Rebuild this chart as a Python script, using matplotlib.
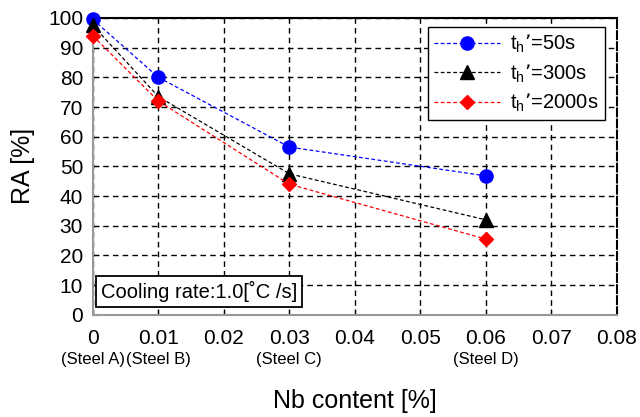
import matplotlib.pyplot as plt

plt.rcParams['font.family'] = ['Liberation Sans', 'DejaVu Sans']

nb = [0, 0.01, 0.03, 0.06]
steel_names = ['(Steel A)', '(Steel B)', '(Steel C)', '(Steel D)']
ra_50 = [99.5, 80, 56.5, 46.8]
ra_300 = [97.5, 73.5, 47.5, 32]
ra_2000 = [94, 72, 44, 25.5]

fig = plt.figure(figsize=(6.4, 4.17), dpi=100)
ax = fig.add_axes([0.145, 0.245, 0.819, 0.712])

ax.plot(nb, ra_50, color='blue', ls='--', lw=0.9, marker='o', ms=9.5,
        label="t$_\\mathregular{h}$\u2019=50s", dashes=(3, 2), clip_on=False, zorder=5)
ax.plot(nb, ra_300, color='black', ls='--', lw=0.9, marker='^', ms=9.5,
        label="t$_\\mathregular{h}$\u2019=300s", dashes=(3, 2), clip_on=False, zorder=5)
ax.plot(nb, ra_2000, color='red', ls='--', lw=0.9, marker='D', ms=7.5,
        label="t$_\\mathregular{h}$\u2019=2000s", dashes=(3, 2), clip_on=False, zorder=5)

ax.set_xlim(0, 0.08)
ax.set_ylim(0, 100)
ax.set_xticks([0, 0.01, 0.02, 0.03, 0.04, 0.05, 0.06, 0.07, 0.08])
ax.set_xticklabels(['0', '0.01', '0.02', '0.03', '0.04', '0.05', '0.06', '0.07', '0.08'])
ax.set_yticks(range(0, 101, 10))
ax.tick_params(direction='in', labelsize=15, length=4)
ax.tick_params(axis='x', pad=10)
ax.tick_params(axis='y', pad=7)

ax.grid(True, color='black', ls='--', lw=1.0, dashes=(4, 3))
ax.set_axisbelow(True)

for s in ['left', 'bottom']:
    ax.spines[s].set_color('#999999')
    ax.spines[s].set_linewidth(1.5)
ax.spines['top'].set_linewidth(1.5)
ax.spines['right'].set_linestyle('--')
ax.spines['right'].set_linewidth(1.5)

for x, name in zip(nb, steel_names):
    ax.text(x, -0.125, name, transform=ax.get_xaxis_transform(),
            ha='center', va='top', fontsize=12)

ax.set_xlabel('Nb content [%]', fontsize=18)
ax.xaxis.set_label_coords(0.5, -0.25)
ax.set_ylabel('RA [%]', fontsize=18)
ax.yaxis.set_label_coords(-0.11, 0.5)

leg = ax.legend(loc='upper right', bbox_to_anchor=(0.977, 0.97), fontsize=14.5,
                frameon=True, fancybox=False, edgecolor='black',
                handlelength=3.3, handletextpad=0.5, borderpad=0.3,
                labelspacing=0.35, borderaxespad=0)
leg.get_frame().set_linewidth(1.0)
leg.get_frame().set_alpha(1)

ax.text(0.015, 0.042, 'Cooling rate:1.0[\u02daC /s]', transform=ax.transAxes,
        fontsize=14.5, ha='left', va='bottom',
        bbox=dict(boxstyle='square,pad=0.25', fc='white', ec='black', lw=1.3))

fig.savefig('out.png', dpi=100)
